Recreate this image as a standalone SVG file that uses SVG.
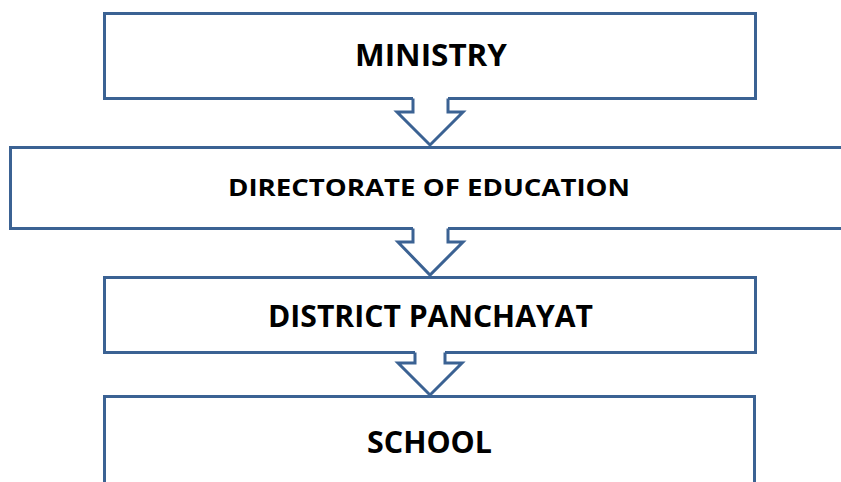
<svg xmlns="http://www.w3.org/2000/svg" width="841" height="482" viewBox="0 0 841 482">
<style>
.box{fill:#ffffff;stroke:#3b6293;stroke-width:3}
.arr{fill:#ffffff;stroke:#3b6293;stroke-width:3;stroke-linejoin:miter}
.fill{fill:#ffffff;stroke:none}
.t{font-family:"Open Sans","Liberation Sans",Arial,sans-serif;font-weight:bold;fill:#000000;text-anchor:middle}
</style>
<rect width="841" height="482" fill="#ffffff"/>
<g id="ministry">
<rect class="box" x="104.5" y="13.5" width="651" height="85"/>
<text class="t" x="431" y="66" font-size="31" textLength="152" lengthAdjust="spacingAndGlyphs">MINISTRY</text>
</g>
<g id="directorate">
<rect class="box" x="10.5" y="147.5" width="840" height="81"/>
<text class="t" x="429" y="195.5" font-size="24" textLength="402" lengthAdjust="spacingAndGlyphs">DIRECTORATE OF EDUCATION</text>
</g>
<g id="district">
<rect class="box" x="104.5" y="277.5" width="651" height="75"/>
<text class="t" x="430.5" y="327" font-size="31" textLength="325" lengthAdjust="spacingAndGlyphs">DISTRICT PANCHAYAT</text>
</g>
<g id="school">
<rect class="box" x="104.5" y="396.5" width="650" height="100"/>
<text class="t" x="429.5" y="453" font-size="31" textLength="125" lengthAdjust="spacingAndGlyphs">SCHOOL</text>
</g>
<g id="connectors">
<polygon class="fill" points="413,97 448,97 448,112 463,112 430,145 397,112 413,112"/>
<polyline class="arr" points="413,98.5 413,112 397,112 430,145 463,112 448,112 448,98.5"/>
<polygon class="fill" points="413,227 448,227 448,242 463,242 430,275 398,242 413,242"/>
<polyline class="arr" points="413,228.5 413,242 398,242 430,275 463,242 448,242 448,228.5"/>
<polygon class="fill" points="415,351 445,351 445,363 462,363 430,395 398,363 415,363"/>
<polyline class="arr" points="415,352.5 415,363 398,363 430,395 462,363 445,363 445,352.5"/>
</g>
</svg>
